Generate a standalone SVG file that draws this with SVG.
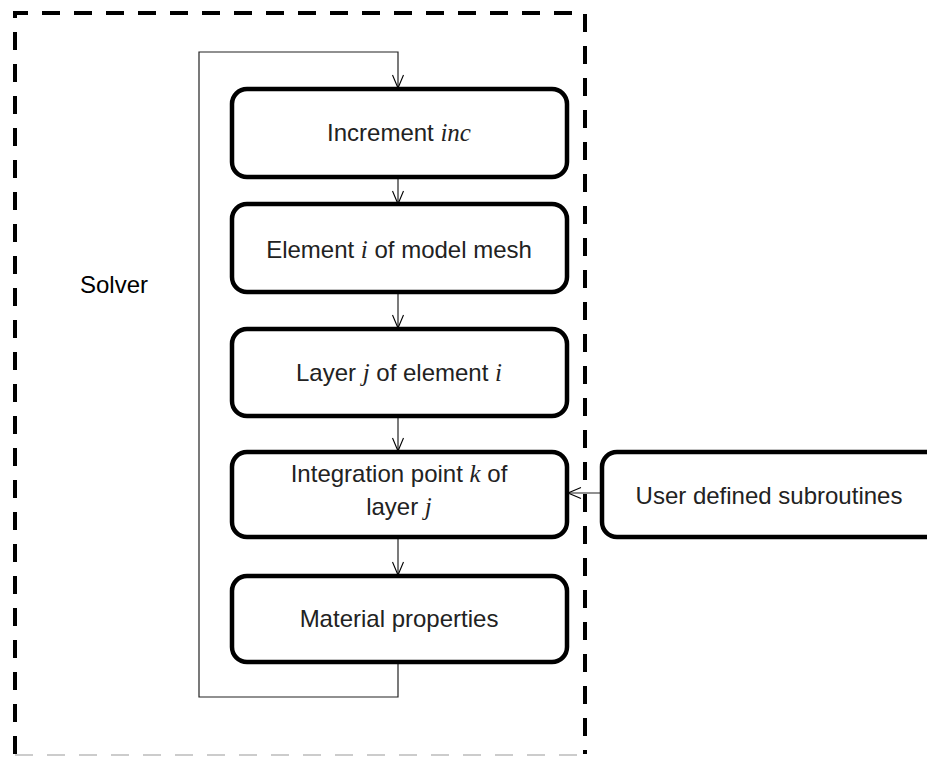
<svg xmlns="http://www.w3.org/2000/svg" width="927" height="758" viewBox="0 0 927 758">
<defs>
<marker id="ah" markerWidth="16" markerHeight="12" refX="14" refY="6" orient="auto" markerUnits="userSpaceOnUse">
<path d="M1,0.5 L14,6 L1,11.5" fill="none" stroke="#000" stroke-width="1.1"/>
</marker>
</defs>
<style>
.box{fill:#fff;stroke:#000;stroke-width:4.5}
.t{font-family:"Liberation Sans",Arial,sans-serif;font-size:24px;fill:#222;text-anchor:middle}
.v{font-family:"Liberation Serif","Times New Roman",serif;font-style:italic;font-size:25px}
.c{fill:none;stroke:#222;stroke-width:1.2}
.dash{fill:none;stroke:#000;stroke-width:4;stroke-dasharray:18 14}
</style>
<rect width="927" height="758" fill="#fff"/>
<g id="solver-frame">
<path class="dash" d="M15,754 L15,13 L585,13 L585,754"/>
<path d="M15,755 L585,755" fill="none" stroke="#ccc" stroke-width="2" stroke-dasharray="18 14"/>
<text x="80" y="293" font-family="Liberation Sans,Arial,sans-serif" font-size="24" fill="#000">Solver</text>
</g>
<g id="connectors">
<path class="c" d="M398,662 L398,697 L199,697 L199,52 L398,52 L398,88" marker-end="url(#ah)"/>
<path class="c" d="M398,177 L398,204" marker-end="url(#ah)"/>
<path class="c" d="M398,292 L398,328" marker-end="url(#ah)"/>
<path class="c" d="M398,416 L398,451" marker-end="url(#ah)"/>
<path class="c" d="M398,537 L398,575" marker-end="url(#ah)"/>
<path class="c" d="M602,493 L568,493" marker-end="url(#ah)"/>
</g>
<g id="increment">
<rect class="box" x="232" y="89" width="335" height="88" rx="15"/>
<text class="t" x="399" y="141">Increment <tspan class="v">inc</tspan></text>
</g>
<g id="element">
<rect class="box" x="232" y="204" width="335" height="88" rx="15"/>
<text class="t" x="399" y="258">Element <tspan class="v">i</tspan> of model mesh</text>
</g>
<g id="layer">
<rect class="box" x="232" y="329" width="335" height="87" rx="15"/>
<text class="t" x="399" y="381">Layer <tspan class="v">j</tspan> of element <tspan class="v">i</tspan></text>
</g>
<g id="integration">
<rect class="box" x="232" y="452" width="335" height="85" rx="15"/>
<text class="t" x="399" y="482">Integration point <tspan class="v">k</tspan> of</text>
<text class="t" x="399" y="515">layer <tspan class="v">j</tspan></text>
</g>
<g id="material">
<rect class="box" x="232" y="576" width="335" height="86" rx="15"/>
<text class="t" x="399" y="627">Material properties</text>
</g>
<g id="user-subroutines">
<rect class="box" x="602" y="452" width="345" height="85" rx="15"/>
<text class="t" x="769" y="504">User defined subroutines</text>
</g>
</svg>
